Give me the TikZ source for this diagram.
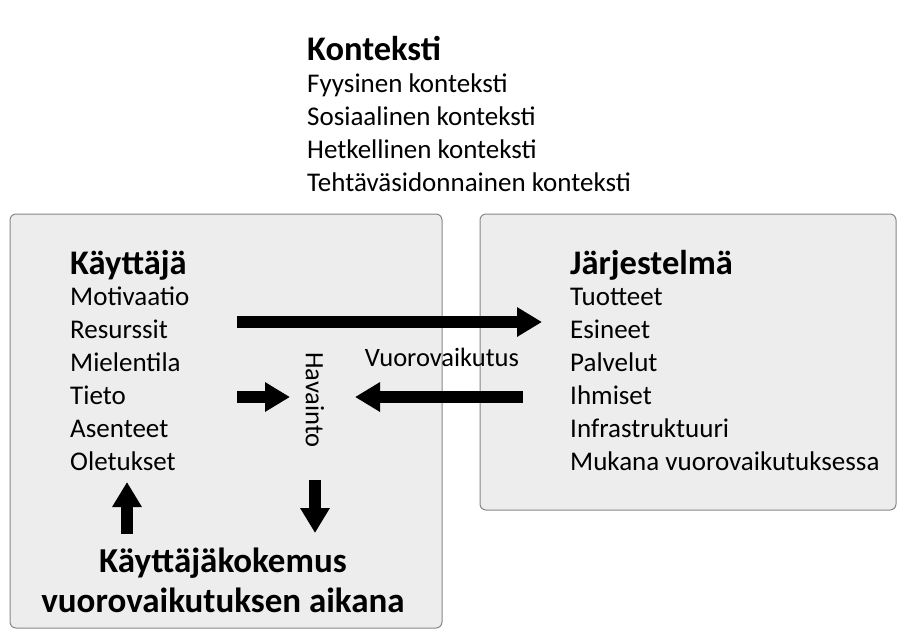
\documentclass[tikz,border=0pt]{standalone}
\usepackage{fontspec}
\setmainfont{Carlito}
\usetikzlibrary{arrows.meta,positioning}
\definecolor{panelgrey}{RGB}{237,237,237}
\definecolor{edgegrey}{RGB}{135,135,135}

\begin{document}
\begin{tikzpicture}[x=1pt, y=-1pt,
    panel/.style={draw=edgegrey, fill=panelgrey, rounded corners=6pt, line width=1pt, inner sep=0pt},
    head/.style={font=\fontsize{34.5}{33}\selectfont\bfseries, anchor=base west, inner sep=0pt},
    items/.style={font=\fontsize{27}{33}\selectfont, anchor=base west, align=left, inner sep=0pt},
    label/.style={font=\fontsize{26.5}{30}\selectfont, inner sep=0pt},
    flow/.style={line width=12pt, -{Triangle[length=25pt, width=28pt]}}
]
\useasboundingbox (0,0) rectangle (906,641);

% context list on top
\node[head] (ctxhead) at (307,60) {Konteksti};
\node[items] (ctxlist) at (307,191) {Fyysinen konteksti\\Sosiaalinen konteksti\\Hetkellinen konteksti\\Tehtäväsidonnainen konteksti};

% the two panels
\node[panel, minimum width=432pt, minimum height=414pt] (userbox) at (226,421) {};
\node[panel, minimum width=416pt, minimum height=296pt] (sysbox) at (688,362) {};

% user side
\node[head] (userhead) at (70,274) {Käyttäjä};
\node[items] (userlist) at (70,470) {Motivaatio\\Resurssit\\Mielentila\\Tieto\\Asenteet\\Oletukset};

% system side
\node[head] (syshead) at (570,274) {Järjestelmä};
\node[items] (syslist) at (570,470) {Tuotteet\\Esineet\\Palvelut\\Ihmiset\\Infrastruktuuri\\Mukana vuorovaikutuksessa};

% labels in between
\node[label, rotate=-90] (percept) at (315,400) {Havainto};
\node[label] (interact) at (442,357) {Vuorovaikutus};

% experience
\node[font=\fontsize{35}{40}\selectfont\bfseries, align=center, anchor=base, inner sep=0pt] (ux) at (223,612) {Käyttäjäkokemus\\vuorovaikutuksen aikana};

% arrow ends
\coordinate (actfrom) at (237,322);
\coordinate (actto) at (542,322);
\coordinate (knowfrom) at (237,397);
\coordinate (knowto) at (290,397);
\coordinate (backfrom) at (523,397);
\coordinate (backto) at (355,397);
\coordinate (downfrom) at (315,480);
\coordinate (downto) at (315,533);
\coordinate (upfrom) at (127,534);
\coordinate (upto) at (127,482);

\draw[flow] (actfrom) -- (actto);
\draw[flow] (knowfrom) -- (knowto);
\draw[flow] (backfrom) -- (backto);
\draw[flow] (downfrom) -- (downto);
\draw[flow] (upfrom) -- (upto);
\end{tikzpicture}
\end{document}
